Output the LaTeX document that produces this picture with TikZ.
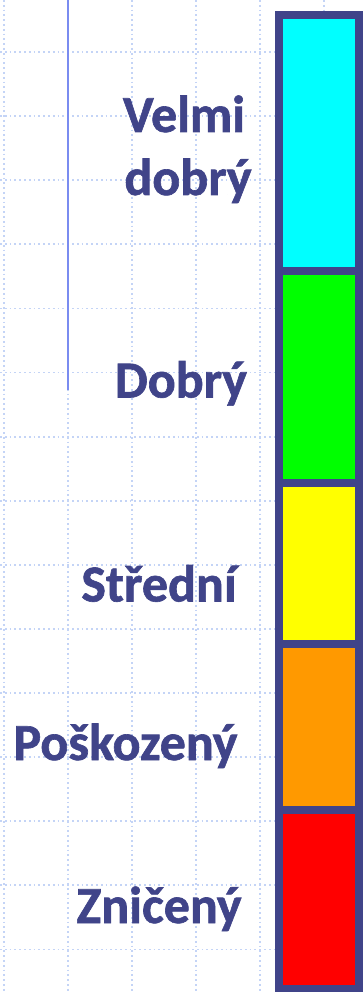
\documentclass[tikz,border=0pt]{standalone}
\usepackage{fontspec}
\setmainfont[BoldFeatures={FakeBold=1.2}]{Carlito}
\definecolor{txtc}{HTML}{404489}
\definecolor{barc}{HTML}{404489}
\definecolor{gridc}{HTML}{C4D4F6}
\definecolor{vline}{HTML}{7A8CF0}
\definecolor{cyanc}{HTML}{00FFFF}
\definecolor{greenc}{HTML}{00FF00}
\definecolor{yellowc}{HTML}{FFFF00}
\definecolor{orng}{HTML}{FF9900}
\definecolor{redc}{HTML}{FF0000}
\tikzset{
  gridline/.style={gridc, line width=1.8pt, dash pattern=on 1.8pt off 3pt},
  label/.style={txtc, font=\fontsize{52}{62}\selectfont\bfseries, inner sep=0pt, anchor=base},
  seg/.style={line width=8pt, draw=barc}
}
\begin{document}
\begin{tikzpicture}[x=1pt,y=-1pt]
\useasboundingbox (0,0) rectangle (363,992);
% grid
\foreach \k in {0,...,14} {
  \draw[gridline] (0,{52+64.1*\k}) -- (363,{52+64.1*\k});
}
\foreach \xx in {4,68,132,196,260,324} {
  \draw[gridline] (\xx,0) -- (\xx,992);
}
% vertical blue line
\coordinate (vt) at (67.5,0);
\coordinate (vb) at (67.5,390);
\draw[vline, line width=2pt] (vt) -- (vb);
% bar segments
\fill[cyanc] (279,15) rectangle (359,271);
\fill[greenc] (279,271) rectangle (359,482.5);
\fill[yellowc] (279,482.5) rectangle (359,644);
\fill[orng] (279,644) rectangle (359,809.5);
\fill[redc] (279,809.5) rectangle (359,989);
\draw[seg] (279,15) rectangle (359,989);
\draw[seg] (279,271) -- (359,271);
\draw[seg] (279,482.5) -- (359,482.5);
\draw[seg] (279,644) -- (359,644);
\draw[seg] (279,809.5) -- (359,809.5);
% labels
\node[label] (velmi) at (184,132) {Velmi};
\node[label] (dobry1) at (188,195) {dobrý};
\node[label] (dobry2) at (181,397.5) {Dobrý};
\node[label] (stredni) at (159,601.5) {Střední};
\node[label] (poskozeny) at (125.5,760) {Poškozený};
\node[label] (zniceny) at (159,923) {Zničený};
\end{tikzpicture}
\end{document}
